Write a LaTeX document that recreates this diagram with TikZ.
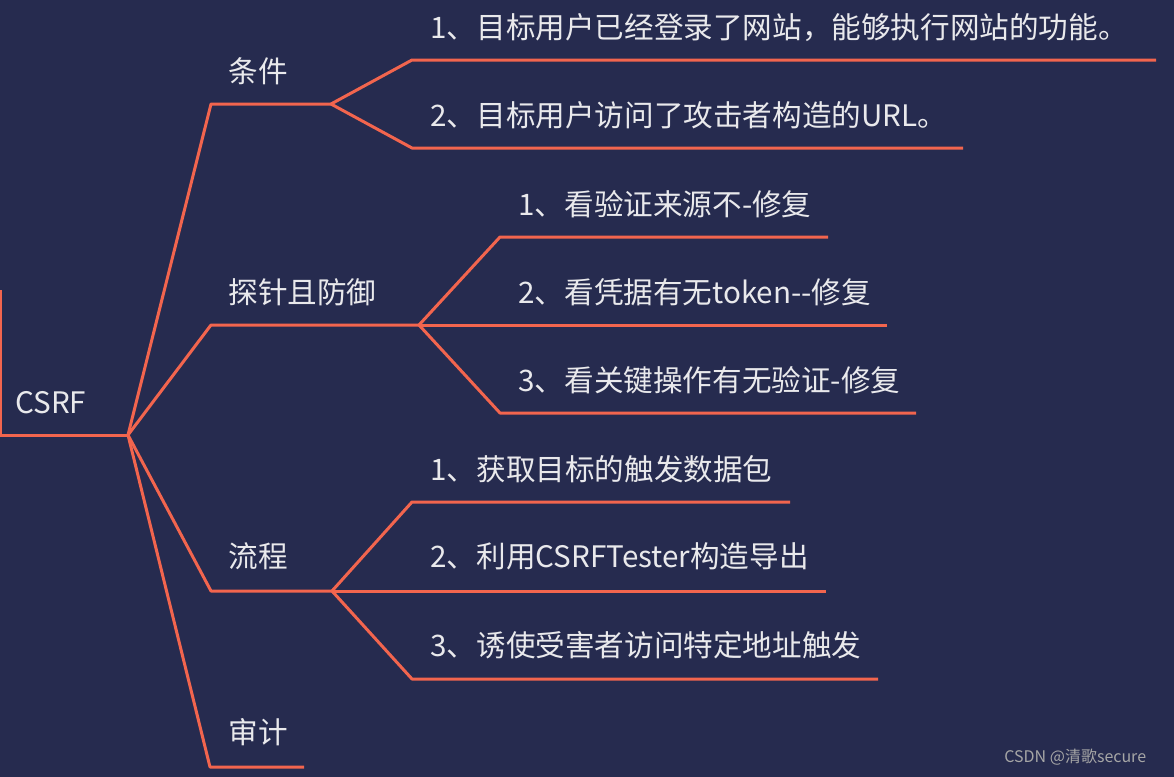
\documentclass[tikz,border=0pt]{standalone}
\usepackage{fontspec}
\setmainfont{Noto Sans CJK SC}
\usetikzlibrary{positioning}
\definecolor{navy}{HTML}{262B4F}
\definecolor{coral}{HTML}{F2654E}
\definecolor{paper}{HTML}{E9E9EC}
\tikzstyle{topic} = [anchor=west, inner sep=0pt, text=paper, font=\fontsize{14.8}{17}\selectfont, text height=1.12em, text depth=0.12em]
\tikzstyle{watermark} = [anchor=west, inner sep=0pt, text=gray!70, font=\fontsize{8}{10}\selectfont]
\tikzstyle{branch} = [coral, line width=1.5pt, line join=round]

\begin{document}
\begin{tikzpicture}[x=0.5pt, y=-0.5pt]

	\fill [navy] (0,0) rectangle (1174,777);
	\useasboundingbox (0,0) rectangle (1174,777);

	\node (csrf) [topic] at (15,403) {CSRF};

	\node (tj) [topic] at (228,72) {条件};
	\node (tj1) [topic] at (430,28) {1、目标用户已经登录了网站，能够执行网站的功能。};
	\node (tj2) [topic] at (430,116) {2、目标用户访问了攻击者构造的URL。};

	\node (fy) [topic] at (228,293) {探针且防御};
	\node (fy1) [topic] at (518,205) {1、看验证来源不-修复};
	\node (fy2) [topic] at (518,293) {2、看凭据有无token-{}-修复};
	\node (fy3) [topic] at (518,381) {3、看关键操作有无验证-修复};

	\node (lc) [topic] at (228,557) {流程};
	\node (lc1) [topic] at (430,470) {1、获取目标的触发数据包};
	\node (lc2) [topic] at (430,557) {2、利用CSRFTester构造导出};
	\node (lc3) [topic] at (430,646) {3、诱使受害者访问特定地址触发};

	\node (sj) [topic] at (228,733) {审计};

	\node (wm) [watermark] at (1004,757) {CSDN @清歌secure};

	\coordinate (rootL) at (0,290);
	\coordinate (rootB) at (0,435);
	\coordinate (hub) at (128,435);

	\coordinate (tjA) at (211,104);
	\coordinate (tjB) at (331,104);
	\coordinate (tj1A) at (412,60);
	\coordinate (tj1B) at (1156,60);
	\coordinate (tj2A) at (412,148);
	\coordinate (tj2B) at (963,148);

	\coordinate (fyA) at (211,325);
	\coordinate (fyB) at (419,325);
	\coordinate (fy1A) at (500,237);
	\coordinate (fy1B) at (828,237);
	\coordinate (fy2B) at (887,325);
	\coordinate (fy3A) at (500,413);
	\coordinate (fy3B) at (916,413);

	\coordinate (lcA) at (211,591);
	\coordinate (lcB) at (332,591);
	\coordinate (lc1A) at (412,502);
	\coordinate (lc1B) at (790,502);
	\coordinate (lc2B) at (826,591);
	\coordinate (lc3A) at (412,679);
	\coordinate (lc3B) at (878,679);

	\coordinate (sjA) at (210,767);
	\coordinate (sjB) at (304,767);

	\draw [branch] (rootL) -- (rootB) -- (hub);

	\draw [branch] (hub) -- (tjA) -- (tjB);
	\draw [branch] (tjB) -- (tj1A) -- (tj1B);
	\draw [branch] (tjB) -- (tj2A) -- (tj2B);

	\draw [branch] (hub) -- (fyA) -- (fyB);
	\draw [branch] (fyB) -- (fy1A) -- (fy1B);
	\draw [branch] (fyB) -- (fy2B);
	\draw [branch] (fyB) -- (fy3A) -- (fy3B);

	\draw [branch] (hub) -- (lcA) -- (lcB);
	\draw [branch] (lcB) -- (lc1A) -- (lc1B);
	\draw [branch] (lcB) -- (lc2B);
	\draw [branch] (lcB) -- (lc3A) -- (lc3B);

	\draw [branch] (hub) -- (sjA) -- (sjB);

\end{tikzpicture}
\end{document}
